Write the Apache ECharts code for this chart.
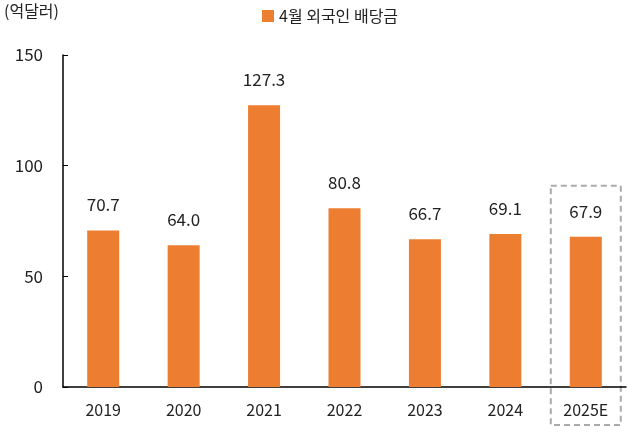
<!DOCTYPE html>
<html><head><meta charset="utf-8">
<script src="https://cdn.jsdelivr.net/npm/echarts@6/dist/echarts.min.js"></script>
<style>html,body{margin:0;background:#fff}#main{width:629px;height:433px}</style>
</head><body><div id="main"></div>
<script>
var years = ['2019', '2020', '2021', '2022', '2023', '2024', '2025E'];
var dividends = [70.7, 64.0, 127.3, 80.8, 66.7, 69.1, 67.9];
var yTicks = [0, 50, 100, 150];

var font = '"Noto Sans CJK KR", "Noto Sans", sans-serif';
var myChart = echarts.init(document.getElementById('main'), null, { renderer: 'canvas' });

var option = {
  animation: false,
  textStyle: { fontFamily: font, color: '#222' },
  grid: { left: 63, right: 3, top: 55, bottom: 46 },
  legend: {
    data: ['4월 외국인 배당금'],
    top: 3, left: 257,
    itemWidth: 12, itemHeight: 12, icon: 'rect',
    textStyle: { fontSize: 16, color: '#222', fontFamily: font }
  },
  xAxis: {
    type: 'category', data: years,
    axisLine: { lineStyle: { color: '#000', width: 1.5 } },
    axisTick: { show: false },
    axisLabel: { fontSize: 16, color: '#222', margin: 15 }
  },
  yAxis: {
    type: 'value', min: yTicks[0], max: yTicks[3], interval: 50,
    axisLine: { show: true, lineStyle: { color: '#000', width: 1.5 } },
    axisTick: { show: true, inside: true, length: 5, lineStyle: { color: '#000' } },
    splitLine: { show: false },
    axisLabel: { fontSize: 17, color: '#222', margin: 20 }
  },
  series: [{
    name: '4월 외국인 배당금', type: 'bar', data: dividends,
    barWidth: 32,
    itemStyle: { color: '#ED7D31' },
    label: { show: true, position: 'top', distance: 17, fontSize: 17, color: '#222',
      formatter: function (p) { return p.value.toFixed(1); } }
  }]
};
myChart.setOption(option);

// dashed box around the estimate bar
var last = years.length - 1;
var boxTop = myChart.convertToPixel({ seriesIndex: 0 }, [last, 90]);
var boxBottom = myChart.convertToPixel({ seriesIndex: 0 }, [last, 0]);
myChart.setOption({
  graphic: [{
    type: 'text', left: 4, top: 3,
    style: { text: '(억달러)', fontSize: 16, fill: '#222', fontFamily: font }
  }, {
    type: 'rect',
    shape: { x: boxTop[0] - 35, y: boxTop[1] - 2, width: 70, height: boxBottom[1] - boxTop[1] + 40 },
    style: { fill: 'none', stroke: '#aaa', lineWidth: 2, lineDash: [6, 4] }
  }]
});
</script>
</body></html>
